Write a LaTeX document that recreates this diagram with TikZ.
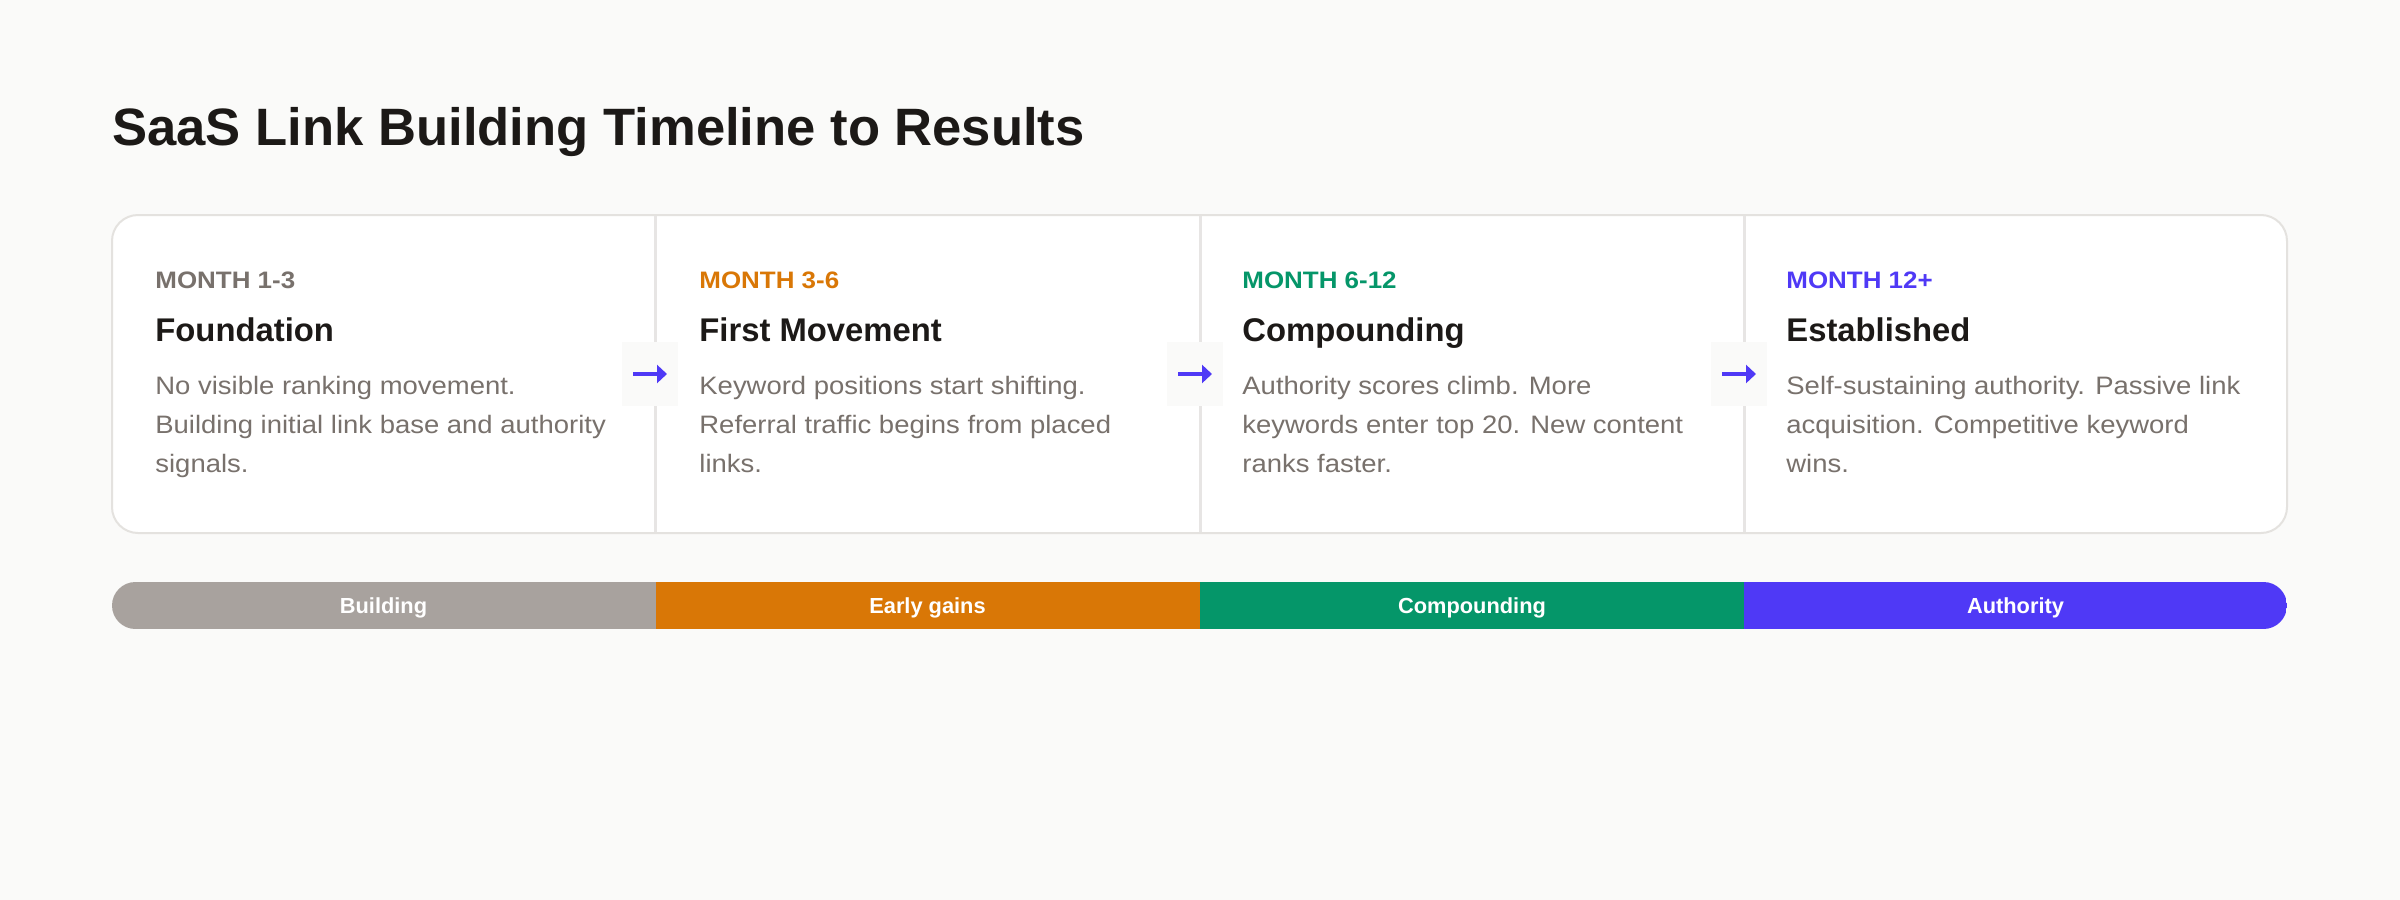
\documentclass[tikz,border=0pt]{standalone}
\usepackage{fontspec}
\setmainfont{Liberation Sans}
\newfontfamily\wideface[FakeStretch=1.09]{Liberation Sans}
\usetikzlibrary{arrows.meta}
\definecolor{bg}{HTML}{FAFAF9}
\definecolor{cardline}{HTML}{E4E2DF}
\definecolor{divline}{HTML}{E7E5E4}
\definecolor{ink}{HTML}{1C1917}
\definecolor{muted}{HTML}{78716C}
\definecolor{cgray}{HTML}{A8A29E}
\definecolor{corange}{HTML}{D97706}
\definecolor{cgreen}{HTML}{059669}
\definecolor{cpurple}{HTML}{4F39F6}
\tikzset{
  titletext/.style={anchor=base west, inner sep=0pt, text=ink, font=\fontsize{26.3pt}{30pt}\selectfont\bfseries},
  monthtext/.style={anchor=base west, inner sep=0pt, font=\wideface\fontsize{11.9pt}{14pt}\selectfont\bfseries},
  headtext/.style={anchor=base west, inner sep=0pt, text=ink, font=\fontsize{16.4pt}{20pt}\selectfont\bfseries},
  bodytext/.style={anchor=base west, inner sep=0pt, text=muted, align=left, font=\wideface\fontsize{12.6pt}{19.5pt}\selectfont},
  barlabel/.style={anchor=base, inner sep=0pt, text=white, font=\fontsize{10.9pt}{13pt}\selectfont\bfseries},
  arrowbox/.style={fill=bg, minimum width=28pt, minimum height=32pt, inner sep=0pt},
  arrowline/.style={draw=cpurple, line width=2pt, -{Triangle[length=5pt,width=9pt]}},
  divider/.style={draw=divline, line width=1.5pt}
}
\begin{document}
\begin{tikzpicture}[x=0.5pt,y=-0.5pt]
\useasboundingbox[fill=bg] (0,0) rectangle (2400,900);

\node[titletext] (title) at (112,145) {SaaS Link Building Timeline to Results};

% card
\draw[cardline, line width=1pt, fill=white, rounded corners=13pt] (112,215) rectangle (2287,533);
\coordinate (d1t) at (655.5,216); \coordinate (d1b) at (655.5,532);
\coordinate (d2t) at (1200,216); \coordinate (d2b) at (1200,532);
\coordinate (d3t) at (1744,216); \coordinate (d3b) at (1744,532);
\draw[divider] (d1t) -- (d1b);
\draw[divider] (d2t) -- (d2b);
\draw[divider] (d3t) -- (d3b);

% arrow boxes
\node[arrowbox] (a1) at (650,374) {};
\node[arrowbox] (a2) at (1195,374) {};
\node[arrowbox] (a3) at (1739,374) {};
\foreach \a in {a1,a2,a3}{
  \draw[arrowline] ([xshift=-8.5pt]\a.center) -- ([xshift=8.5pt]\a.center);
}

% column 1
\node[monthtext, text=muted] (m1) at (155,288) {MONTH 1-3};
\node[headtext] (h1) at (155,341.5) {Foundation};
\node[bodytext] (b1) at (155,472) {No visible ranking movement.\\Building initial link base and authority\\signals.};
% column 2
\node[monthtext, text=corange] (m2) at (699,288) {MONTH 3-6};
\node[headtext] (h2) at (699,341.5) {First Movement};
\node[bodytext] (b2) at (699,472) {Keyword positions start shifting.\\Referral traffic begins from placed\\links.};
% column 3
\node[monthtext, text=cgreen] (m3) at (1242,288) {MONTH 6-12};
\node[headtext] (h3) at (1242,341.5) {Compounding};
\node[bodytext] (b3) at (1242,472) {Authority scores climb. More\\keywords enter top 20. New content\\ranks faster.};
% column 4
\node[monthtext, text=cpurple] (m4) at (1786,288) {MONTH 12+};
\node[headtext] (h4) at (1786,341.5) {Established};
\node[bodytext] (b4) at (1786,472) {Self-sustaining authority. Passive link\\acquisition. Competitive keyword\\wins.};

% bar
\begin{scope}
\clip[rounded corners=11.75pt] (112,582) rectangle (2287,629);
\fill[cgray] (112,582) rectangle (655.5,629);
\fill[corange] (655.5,582) rectangle (1200,629);
\fill[cgreen] (1200,582) rectangle (1744,629);
\fill[cpurple] (1744,582) rectangle (2287,629);
\end{scope}
\node[barlabel] (l1) at (383.5,613) {Building};
\node[barlabel] (l2) at (927.5,613) {Early gains};
\node[barlabel] (l3) at (1472,613) {Compounding};
\node[barlabel] (l4) at (2015.5,613) {Authority};
\end{tikzpicture}
\end{document}
